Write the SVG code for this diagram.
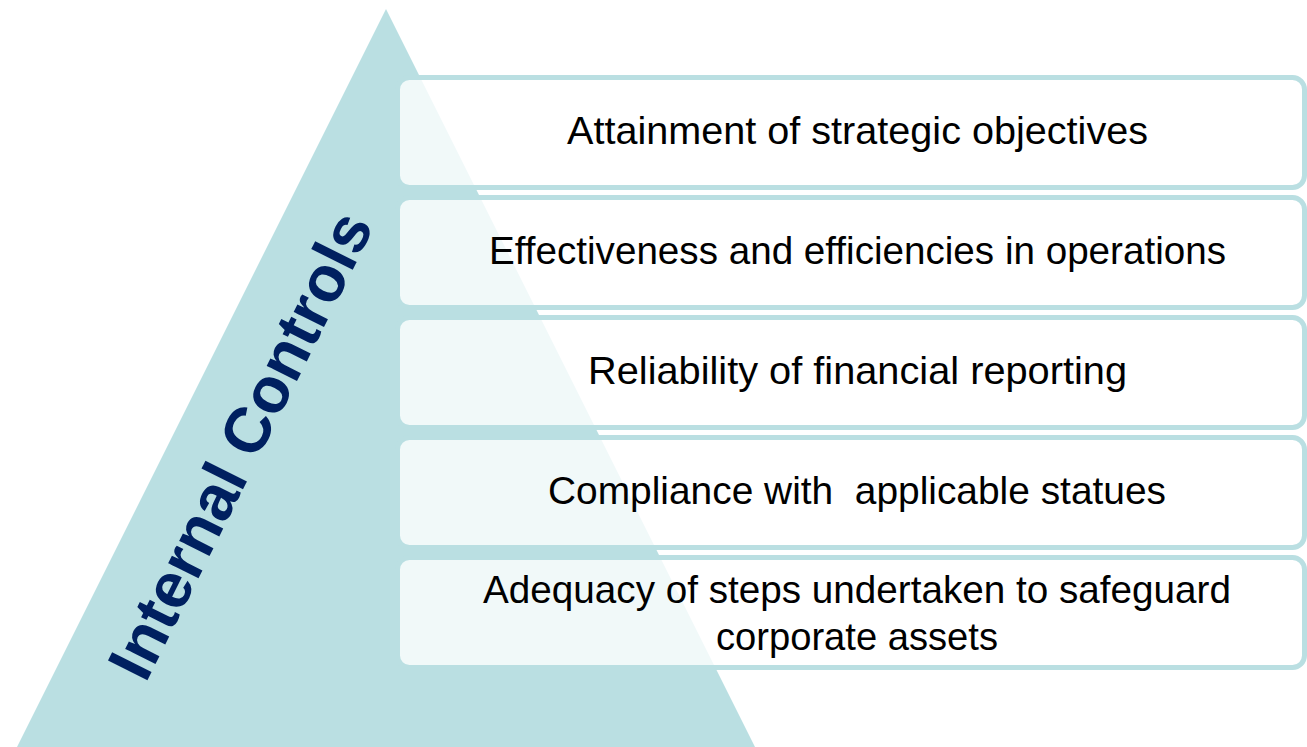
<svg xmlns="http://www.w3.org/2000/svg" width="1307" height="747" viewBox="0 0 1307 747">
<style>
.box{fill:#ffffff;fill-opacity:0.8;stroke:#badfe2;stroke-width:5}
.lbl{font-family:"Liberation Sans",Arial,sans-serif;font-size:39.5px;fill:#000000;text-anchor:middle;white-space:pre}
.title{font-family:"Liberation Sans",Arial,sans-serif;font-weight:bold;font-size:64px;fill:#002060;text-anchor:middle}
</style>
<rect width="1307" height="747" fill="#ffffff"/>
<g id="pyramid">
<polygon points="386,9 13,755 759,755" fill="#badfe2"/>
<text class="title" transform="translate(260,455) rotate(-63.43)">Internal Controls</text>
</g>
<g id="box1">
<rect class="box" x="397.5" y="77.5" width="907" height="110" rx="12"/>
<text class="lbl" x="857.5" y="144" textLength="581" lengthAdjust="spacingAndGlyphs">Attainment of strategic objectives</text>
</g>
<g id="box2">
<rect class="box" x="397.5" y="197.5" width="907" height="110" rx="12"/>
<text class="lbl" x="857.5" y="264" textLength="737" lengthAdjust="spacingAndGlyphs">Effectiveness and efficiencies in operations</text>
</g>
<g id="box3">
<rect class="box" x="397.5" y="317.5" width="907" height="110" rx="12"/>
<text class="lbl" x="857.5" y="384" textLength="539" lengthAdjust="spacingAndGlyphs">Reliability of financial reporting</text>
</g>
<g id="box4">
<rect class="box" x="397.5" y="437.5" width="907" height="110" rx="12"/>
<text class="lbl" x="857" y="504" xml:space="preserve" textLength="618" lengthAdjust="spacingAndGlyphs">Compliance with  applicable statues</text>
</g>
<g id="box5">
<rect class="box" x="397.5" y="557.5" width="907" height="110" rx="12"/>
<text class="lbl" x="857" y="603" textLength="748" lengthAdjust="spacingAndGlyphs">Adequacy of steps undertaken to safeguard</text>
<text class="lbl" x="857" y="650" textLength="282" lengthAdjust="spacingAndGlyphs">corporate assets</text>
</g>
<g id="connectors"></g>
</svg>
